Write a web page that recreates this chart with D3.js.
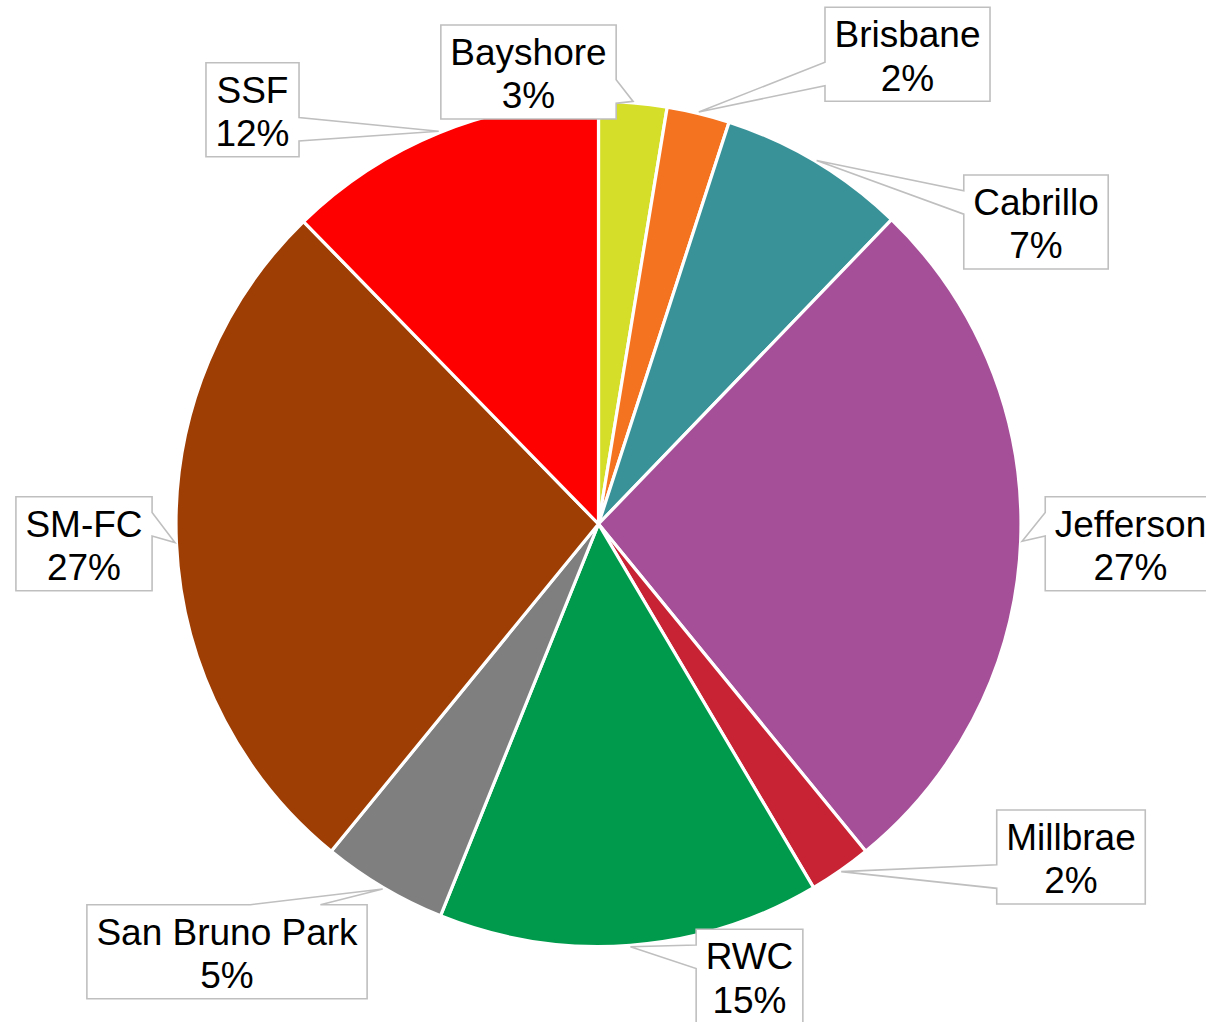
<!DOCTYPE html>
<html>
<head>
<meta charset="utf-8">
<script src="https://cdn.jsdelivr.net/npm/d3@7"></script>
<style>
  html, body { margin: 0; padding: 0; background: #ffffff; }
  svg { display: block; }
  text { font-family: "Liberation Sans", Arial, sans-serif; }
</style>
</head>
<body>
<svg id="chart" width="1206" height="1022"></svg>
<script>
// Enrollment share by feeder district (percent of total)
const categories = ["Bayshore", "Brisbane", "Cabrillo", "Jefferson", "Millbrae",
                    "RWC", "San Bruno Park", "SM-FC", "SSF"];
const shares = [2.6, 2.4, 7.2, 26.9, 2.4, 14.6, 4.8, 26.8, 12.3];
const sliceColors = ["#d5de28", "#f47321", "#3a9299", "#a54f98", "#c82334",
                     "#009a4c", "#7f7f7f", "#9e3d04", "#fe0000"];

// Callout box centres (layout only)
const calloutCentres = {
  "Bayshore": [528.5, 72],
  "Brisbane": [907.5, 54.3],
  "Cabrillo": [1036, 222],
  "Jefferson": [1130.5, 543.8],
  "Millbrae": [1071, 857],
  "RWC": [749.5, 976.3],
  "San Bruno Park": [227, 951.7],
  "SM-FC": [84, 543.8],
  "SSF": [252.5, 109.7]
};

const W = 1206, H = 1022;
const cx = 598.5, cy = 524, radius = 422.5;
const boxH = 94, padX = 9.5;

const svg = d3.select("#chart");
const total = d3.sum(shares);
const data = categories.map((c, i) => ({ name: c, value: shares[i], color: sliceColors[i] }));

const pie = d3.pie().value(d => d.value).sort(null);
const arcs = pie(data);
const arc = d3.arc().innerRadius(0).outerRadius(radius);

const g = svg.append("g").attr("transform", `translate(${cx},${cy})`);
g.selectAll("path.slice")
  .data(arcs)
  .join("path")
  .attr("class", "slice")
  .attr("d", arc)
  .attr("fill", d => d.data.color)
  .attr("stroke", "#ffffff")
  .attr("stroke-width", 3.2)
  .attr("stroke-linejoin", "round");

// Callout labels
const labels = svg.append("g");
arcs.forEach(a => {
  const name = a.data.name;
  const pct = Math.round(a.data.value / total * 100) + "%";
  const [bx, by] = calloutCentres[name];
  const mid = (a.startAngle + a.endAngle) / 2;
  const tipR = radius + 1.5;
  const tip = [cx + tipR * Math.sin(mid), cy - tipR * Math.cos(mid)];

  const lg = labels.append("g");
  const shape = lg.append("path");
  const t1 = lg.append("text").attr("x", bx).attr("y", by - boxH / 2 + 40)
    .attr("text-anchor", "middle").attr("font-size", 37).attr("fill", "#000").text(name);
  const t2 = lg.append("text").attr("x", bx).attr("y", by - boxH / 2 + 83.3)
    .attr("text-anchor", "middle").attr("font-size", 37).attr("fill", "#000").text(pct);

  const tw = Math.max(t1.node().getComputedTextLength(), t2.node().getComputedTextLength());
  const bw = tw + 2 * padX;
  const L = bx - bw / 2, R = bx + bw / 2, T = by - boxH / 2, B = by + boxH / 2;

  // wedge side: whichever direction the tip lies furthest out, relative to box size
  const rx = (tip[0] - bx) / (bw / 2), ry = (tip[1] - by) / (boxH / 2);
  const pts = [];
  if (Math.abs(rx) >= Math.abs(ry)) {
    const lower = tip[1] > by;
    const f1 = lower ? 7 / 12 : 1 / 6, f2 = lower ? 5 / 6 : 5 / 12;
    if (rx > 0) {
      pts.push([L, T], [R, T], [R, T + f1 * boxH], tip, [R, T + f2 * boxH], [R, B], [L, B]);
    } else {
      pts.push([L, T], [R, T], [R, B], [L, B], [L, T + f2 * boxH], tip, [L, T + f1 * boxH]);
    }
  } else {
    const right = tip[0] > bx;
    const f1 = right ? 7 / 12 : 1 / 6, f2 = right ? 5 / 6 : 5 / 12;
    if (ry < 0) {
      pts.push([L, T], [L + f1 * bw, T], tip, [L + f2 * bw, T], [R, T], [R, B], [L, B]);
    } else {
      pts.push([L, T], [R, T], [R, B], [L + f2 * bw, B], tip, [L + f1 * bw, B], [L, B]);
    }
  }
  shape.attr("d", d3.line()(pts) + "Z")
    .attr("fill", "#ffffff")
    .attr("stroke", "#bfbfbf")
    .attr("stroke-width", 1.6)
    .attr("stroke-linejoin", "miter");
});
</script>
</body>
</html>
